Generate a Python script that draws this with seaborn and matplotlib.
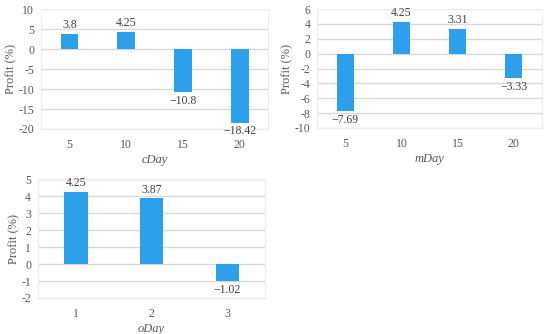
import numpy as np
import matplotlib
matplotlib.use("Agg")
import matplotlib.pyplot as plt
import seaborn as sns

# chart data
c_days = ["5", "10", "15", "20"]
c_profit = [3.8, 4.25, -10.8, -18.42]
m_days = ["5", "10", "15", "20"]
m_profit = [-7.69, 4.25, 3.31, -3.33]
o_days = ["1", "2", "3"]
o_profit = [4.25, 3.87, -1.02]

sns.set_theme(style="white")
plt.rcParams['font.family'] = ['Liberation Serif', 'DejaVu Serif']

BAR = '#2E9FEA'
GRID = '#d9d9d9'
TICK = '#595959'


def draw(ax, days, profit, xlabel, ylim, step):
    sns.barplot(x=days, y=profit, ax=ax, color=BAR, width=0.31,
                saturation=1, edgecolor='none')
    ax.set_ylim(*ylim)
    ax.set_yticks(np.arange(ylim[0], ylim[1] + step / 2, step))
    ax.set_yticklabels([f"{int(t)}" for t in ax.get_yticks()])
    ax.set_xlim(-0.5, len(days) - 0.5)
    ax.yaxis.grid(True, color=GRID, linewidth=1)
    ax.set_axisbelow(True)
    for s in ax.spines.values():
        s.set_color('#ececec')
        s.set_linewidth(0.8)
    ax.tick_params(axis='both', length=0, labelsize=8.5, labelcolor=TICK)
    ax.tick_params(axis='x', pad=7.5)
    ax.tick_params(axis='y', pad=5)
    ax.set_xlabel(xlabel, fontsize=9, style='italic', color=TICK, labelpad=2)
    ax.set_ylabel('Profit (%)', fontsize=9, color=TICK, labelpad=1)
    for bar, v in zip(ax.patches, profit):
        lbl = f"{v:g}".replace('-', '\u2212')
        x = bar.get_x() + bar.get_width() / 2
        ax.annotate(lbl, (x, v), xytext=(0, 2 if v >= 0 else -2),
                    textcoords='offset points', ha='center',
                    va='bottom' if v >= 0 else 'top',
                    fontsize=8.5, color='#404040')


fig = plt.figure(figsize=(5.5, 3.34), dpi=100)
ax1 = fig.add_axes([0.0745, 0.6138, 0.413, 0.359])
ax2 = fig.add_axes([0.577, 0.6168, 0.408, 0.356])
ax3 = fig.add_axes([0.069, 0.1078, 0.413, 0.356])

draw(ax1, c_days, c_profit, 'cDay', (-20, 10), 5)
draw(ax2, m_days, m_profit, 'mDay', (-10, 6), 2)
draw(ax3, o_days, o_profit, 'oDay', (-2, 5), 1)

fig.savefig('out.png', dpi=100, facecolor='white')
